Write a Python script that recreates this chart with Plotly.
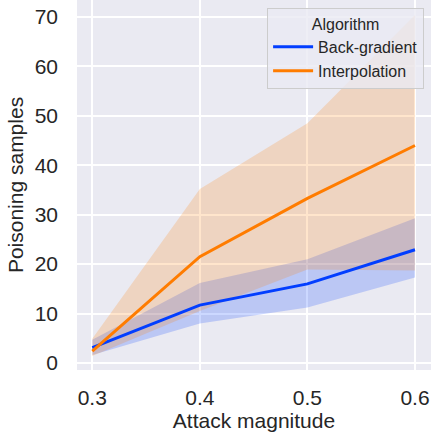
import plotly.graph_objects as go

x_vals = [0.3, 0.4, 0.5, 0.6]
x_ticks = [0.3, 0.4, 0.5, 0.6]
y_ticks = [0, 10, 20, 30, 40, 50, 60, 70]

series_names = ["Back-gradient", "Interpolation"]
bg_mean = [3.1, 11.7, 16.0, 22.9]
bg_low = [1.6, 8.0, 11.2, 17.3]
bg_high = [4.7, 16.2, 21.0, 29.3]
ip_mean = [2.4, 21.5, 33.3, 44.0]
ip_low = [1.4, 10.5, 18.9, 18.7]
ip_high = [4.9, 35.2, 48.5, 70.4]

colors = ["#023eff", "#ff7c00"]
fills = ["rgba(2,62,255,0.2)", "rgba(255,124,0,0.2)"]
FONT = "Liberation Sans, Arial, sans-serif"
TXT = "#262626"

fig = go.Figure()
data = [(bg_mean, bg_low, bg_high), (ip_mean, ip_low, ip_high)]
# bands first (behind lines)
for i, (m, lo, hi) in enumerate(data):
    fig.add_trace(go.Scatter(x=x_vals, y=lo, mode="lines", line=dict(width=0),
                             showlegend=False, hoverinfo="skip"))
    fig.add_trace(go.Scatter(x=x_vals, y=hi, mode="lines", line=dict(width=0),
                             fill="tonexty", fillcolor=fills[i],
                             showlegend=False, hoverinfo="skip"))
for i, (m, lo, hi) in enumerate(data):
    fig.add_trace(go.Scatter(x=x_vals, y=m, mode="lines", name=series_names[i],
                             line=dict(color=colors[i], width=3)))

fig.update_layout(
    width=431, height=437,
    margin=dict(l=77, r=0, t=0, b=67),
    paper_bgcolor="white",
    plot_bgcolor="#eaeaf2",
    font=dict(family=FONT, color=TXT, size=21),
    legend=dict(
        x=0.537, y=0.978, xanchor="left", yanchor="top",
        bgcolor="rgba(234,234,242,0.8)", bordercolor="#cccccc", borderwidth=1,
        font=dict(size=16, color=TXT, family=FONT),
        title=dict(text="Algorithm", side="top center", font=dict(size=16, color=TXT)),
        tracegroupgap=0, traceorder="normal", itemwidth=40,
    ),
)
fig.update_xaxes(
    range=[0.2858, 0.6149], tickvals=x_ticks, ticktext=[f"{v:.1f}" for v in x_ticks],
    showgrid=True, gridcolor="white", gridwidth=1.5, zeroline=False,
    showline=False, ticks="", ticklabelstandoff=13,
    tickfont=dict(size=21),
    title=dict(text="Attack magnitude", font=dict(size=21), standoff=2),
)
fig.update_yaxes(
    range=[-1.42, 73.44], tickvals=y_ticks,
    showgrid=True, gridcolor="white", gridwidth=1.5, zeroline=False,
    showline=False, ticks="", ticklabelstandoff=18,
    tickfont=dict(size=21),
    title=dict(text="Poisoning samples", font=dict(size=21), standoff=5),
)

fig.write_html("out.html")
